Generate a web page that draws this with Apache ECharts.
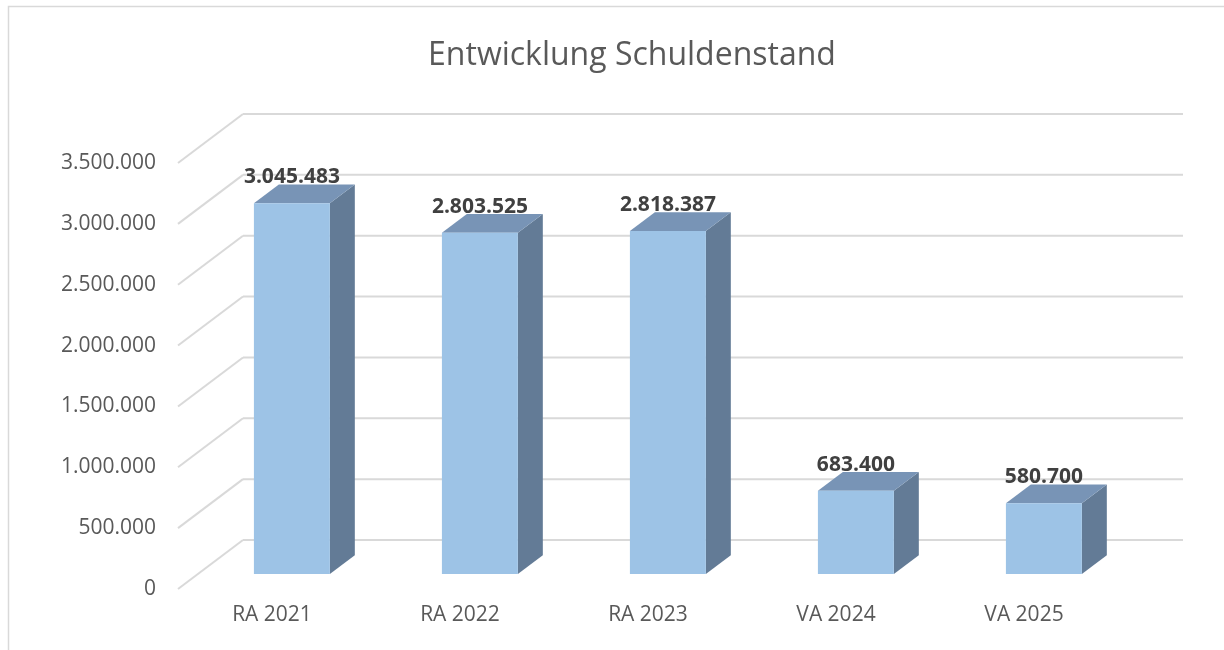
<!DOCTYPE html>
<html><head><meta charset="utf-8">
<script src="https://cdn.jsdelivr.net/npm/echarts@6/dist/echarts.min.js"></script>
<style>html,body{margin:0;padding:0;background:#fff}#c{width:1224px;height:650px}</style>
</head><body><div id="c"></div>
<script>
const categories = ['RA 2021', 'RA 2022', 'RA 2023', 'VA 2024', 'VA 2025'];
const debtValues = [3045483, 2803525, 2818387, 683400, 580700];
const yTicks = [0, 500000, 1000000, 1500000, 2000000, 2500000, 3000000, 3500000];
const titleText = 'Entwicklung Schuldenstand';

const FONT = '"Open Sans", "Noto Sans", sans-serif';
const fmt = v => String(Math.round(v)).replace(/\B(?=(\d{3})+(?!\d))/g, '.');
const WALL_DX = 65, WALL_DY = -49;
const FRONT_D = 0.306, BACK_D = 0.69;
const C_FRONT = '#9DC3E6', C_TOP = '#7894B6', C_SIDE = '#637B96', C_GRID = '#d9d9d9';

function renderGrid(params, api) {
  const cs = params.coordSys;
  const y = api.coord([0, api.value(1)])[1];
  return { type: 'group', children: [
    { type: 'line', shape: { x1: cs.x, y1: y, x2: cs.x + WALL_DX, y2: y + WALL_DY }, style: { stroke: C_GRID, lineWidth: 2 } },
    { type: 'line', shape: { x1: cs.x + WALL_DX, y1: y + WALL_DY, x2: cs.x + cs.width + WALL_DX, y2: y + WALL_DY }, style: { stroke: C_GRID, lineWidth: 2 } }
  ]};
}

function renderBar(params, api) {
  const cat = api.value(0), val = api.value(1);
  const top = api.coord([cat, val]);
  const base = api.coord([cat, 0]);
  const bw = api.size([1, 0])[0] * 0.404;
  const fdx = WALL_DX * FRONT_D, fdy = WALL_DY * FRONT_D;
  const bdx = WALL_DX * BACK_D, bdy = WALL_DY * BACK_D;
  const xl = top[0] - bw / 2, xr = top[0] + bw / 2, yt = top[1], yb = base[1];
  return { type: 'group', children: [
    { type: 'polygon', shape: { points: [[xr + fdx, yt + fdy], [xr + bdx, yt + bdy], [xr + bdx, yb + bdy], [xr + fdx, yb + fdy]] }, style: { fill: C_SIDE } },
    { type: 'polygon', shape: { points: [[xl + fdx, yt + fdy], [xr + fdx, yt + fdy], [xr + bdx, yt + bdy], [xl + bdx, yt + bdy]] }, style: { fill: C_TOP } },
    { type: 'rect', shape: { x: xl + fdx, y: yt + fdy, width: bw, height: yb - yt }, style: { fill: C_FRONT } },
    { type: 'text', x: top[0] + fdx, y: yt + bdy - 7, style: { text: fmt(val), fontFamily: 'Open Sans', fontWeight: 'bold', fontSize: 21, fill: '#404040', align: 'center', verticalAlign: 'middle' } }
  ]};
}

const chart = echarts.init(document.getElementById('c'), null, { renderer: 'canvas' });
chart.setOption({
  backgroundColor: '#ffffff',
  animation: false,
  title: {
    text: titleText, left: 627, top: 31, textAlign: 'center',
    textStyle: { fontFamily: FONT, fontSize: 32, fontWeight: 'normal', color: '#595959', lineHeight: 40 }
  },
  graphic: [{ type: 'rect', shape: { x: 8.5, y: 6.5, width: 1240, height: 670 }, style: { fill: 'none', stroke: '#d9d9d9', lineWidth: 1.5 }, silent: true, z: -10 }],
  grid: { left: 178, right: 106, top: 163, bottom: 61 },
  xAxis: {
    type: 'category', data: categories,
    axisLine: { show: false }, axisTick: { show: false },
    axisLabel: { fontFamily: FONT, fontSize: 21, color: '#595959', margin: 16 }
  },
  yAxis: {
    type: 'value', min: 0, max: 3500000, interval: 500000,
    axisLine: { show: false }, axisTick: { show: false }, splitLine: { show: false },
    axisLabel: { fontFamily: FONT, fontSize: 21, color: '#595959', margin: 22, formatter: v => fmt(v) }
  },
  series: [
    { type: 'custom', renderItem: renderGrid, data: yTicks.map(v => [0, v]), z: 1, silent: true },
    { type: 'custom', renderItem: renderBar, data: debtValues.map((v, i) => [i, v]), z: 2 }
  ]
});
</script></body></html>
